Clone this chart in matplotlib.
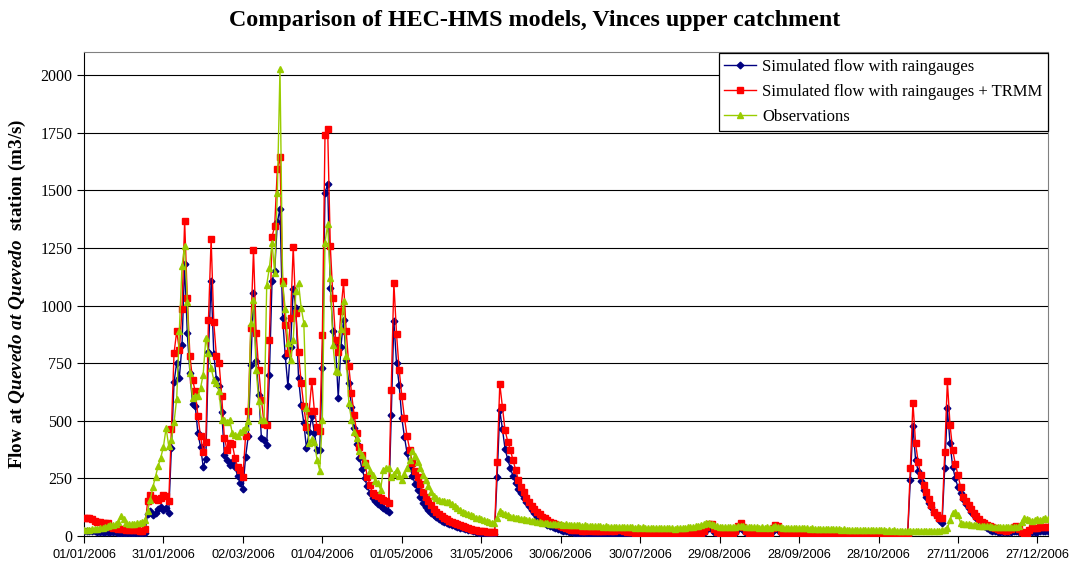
import matplotlib.pyplot as plt
import matplotlib.dates as mdates
import pandas as pd

# daily flows 2006, m3/s
raingauges = [
    22, 21, 21, 20, 20, 19, 19, 18, 18, 17,
    17, 16, 16, 15, 15, 15, 14, 14, 14, 13,
    13, 13, 12, 14, 95, 110, 92, 100, 118, 125,
    112, 120, 100, 381, 667, 752, 686, 827, 1180, 881,
    707, 574, 565, 446, 388, 301, 333, 800, 1106, 790,
    680, 650, 540, 352, 330, 309, 323, 300, 260, 229,
    203, 342, 432, 743, 1055, 758, 613, 425, 417, 396,
    700, 1106, 1149, 1362, 1420, 947, 780, 649, 820, 1073,
    990, 686, 570, 490, 381, 450, 519, 446, 374, 374,
    729, 1490, 1526, 1077, 888, 823, 599, 820, 936, 765,
    664, 560, 470, 400, 340, 290, 250, 215, 185, 165,
    150, 140, 130, 120, 112, 106, 526, 932, 751, 656,
    512, 430, 359, 300, 262, 225, 200, 170, 142, 125,
    112, 100, 91, 82, 74, 67, 60, 55, 50, 46,
    42, 39, 36, 33, 30, 27, 24, 21, 18, 15,
    12, 11, 10, 10, 9, 9, 258, 545, 464, 377,
    333, 294, 260, 229, 205, 186, 165, 149, 130, 113,
    98, 84, 72, 62, 55, 48, 42, 37, 33, 29,
    26, 23, 20, 18, 16, 14, 13, 12, 12, 11,
    11, 10, 10, 10, 9, 9, 9, 9, 8, 8,
    8, 9, 10, 9, 8, 8, 7, 7, 7, 7,
    7, 6, 6, 6, 6, 6, 6, 5, 5, 5,
    5, 5, 5, 5, 5, 5, 5, 5, 5, 5,
    5, 5, 6, 8, 14, 28, 36, 32, 18, 10,
    8, 7, 6, 6, 6, 6, 12, 30, 36, 25,
    12, 8, 7, 6, 6, 6, 5, 5, 6, 8,
    22, 30, 26, 12, 8, 6, 6, 5, 5, 5,
    5, 5, 5, 5, 5, 4, 4, 4, 4, 4,
    4, 4, 4, 4, 4, 4, 4, 4, 4, 4,
    4, 4, 4, 4, 4, 4, 3, 3, 3, 3,
    3, 3, 3, 3, 3, 3, 3, 3, 3, 3,
    3, 3, 243, 478, 330, 280, 240, 200, 171, 145,
    125, 105, 88, 70, 58, 294, 555, 403, 301, 251,
    212, 185, 160, 140, 120, 105, 91, 80, 68, 55,
    45, 35, 27, 22, 20, 19, 18, 18, 17, 17,
    18, 20, 22, 18, 16, 15, 15, 17, 18, 19,
    19, 20, 20, 20, 20,
]

raingauges_trmm = [
    78, 77, 76, 75, 64, 62, 60, 58, 57, 55,
    40, 36, 34, 32, 30, 29, 28, 27, 26, 25,
    24, 23, 22, 30, 150, 178, 165, 160, 157, 165,
    178, 172, 150, 464, 794, 888, 808, 983, 1367, 1033,
    780, 678, 628, 522, 432, 364, 410, 939, 1290, 928,
    780, 751, 609, 425, 374, 403, 400, 338, 300, 287,
    258, 432, 541, 903, 1241, 881, 719, 591, 486, 483,
    852, 1299, 1345, 1591, 1646, 1106, 917, 794, 947, 1255,
    968, 797, 664, 562, 475, 541, 671, 541, 475, 454,
    870, 1739, 1768, 1258, 1033, 852, 800, 978, 1101, 888,
    736, 620, 526, 446, 388, 350, 316, 258, 222, 186,
    178, 172, 164, 157, 150, 142, 635, 1099, 878, 722,
    609, 512, 432, 374, 316, 280, 258, 225, 190, 171,
    150, 135, 118, 106, 96, 88, 80, 72, 66, 60,
    55, 50, 46, 42, 38, 34, 31, 28, 25, 23,
    21, 20, 19, 19, 18, 18, 323, 660, 558, 458,
    410, 374, 328, 287, 243, 214, 190, 165, 149, 128,
    115, 106, 95, 84, 76, 68, 62, 57, 52, 48,
    42, 37, 33, 29, 27, 25, 24, 26, 23, 22,
    25, 24, 22, 21, 23, 22, 20, 21, 24, 22,
    20, 26, 28, 25, 22, 18, 16, 17, 15, 16,
    15, 14, 16, 15, 13, 14, 15, 13, 12, 14,
    13, 12, 14, 13, 12, 11, 13, 12, 11, 12,
    11, 12, 13, 15, 22, 40, 52, 50, 30, 18,
    15, 14, 13, 12, 14, 13, 20, 45, 55, 40,
    20, 15, 13, 12, 11, 12, 11, 10, 12, 15,
    35, 46, 42, 22, 14, 12, 11, 10, 11, 10,
    9, 10, 9, 10, 9, 8, 9, 8, 9, 8,
    8, 9, 8, 7, 8, 7, 8, 7, 6, 7,
    6, 7, 6, 5, 6, 5, 6, 5, 5, 6,
    5, 5, 4, 5, 4, 5, 4, 4, 5, 4,
    4, 5, 297, 578, 403, 319, 265, 222, 190, 160,
    135, 106, 90, 80, 77, 364, 671, 483, 374, 313,
    265, 212, 171, 150, 135, 115, 100, 85, 72, 62,
    55, 48, 42, 37, 33, 30, 27, 25, 23, 25,
    30, 38, 45, 30, 18, 15, 14, 25, 33, 35,
    36, 37, 37, 38, 38,
]

observations = [
    26, 27, 28, 30, 29, 32, 34, 36, 40, 45,
    48, 46, 50, 62, 88, 72, 58, 52, 50, 52,
    55, 58, 62, 70, 110, 157, 212, 258, 304, 340,
    388, 468, 390, 417, 493, 596, 891, 1171, 1260, 1017,
    709, 599, 606, 606, 642, 700, 860, 794, 729, 678,
    664, 628, 504, 504, 495, 504, 446, 440, 432, 450,
    461, 475, 497, 925, 1026, 722, 584, 504, 504, 1091,
    1164, 1273, 1142, 1487, 2026, 1099, 983, 838, 765, 852,
    1062, 1099, 990, 925, 555, 403, 420, 410, 330, 284,
    504, 1273, 1352, 1120, 830, 714, 712, 900, 1019, 780,
    577, 504, 450, 425, 370, 352, 320, 309, 280, 265,
    240, 229, 200, 287, 294, 294, 258, 270, 287, 260,
    243, 270, 294, 330, 367, 345, 320, 294, 265, 243,
    215, 193, 175, 164, 157, 152, 150, 148, 149, 140,
    130, 120, 112, 106, 100, 95, 90, 85, 80, 77,
    72, 68, 65, 62, 58, 55, 80, 110, 100, 94,
    90, 84, 82, 80, 78, 75, 73, 70, 68, 66,
    64, 62, 60, 58, 56, 55, 54, 52, 53, 51,
    50, 49, 50, 48, 48, 47, 46, 47, 45, 46,
    44, 45, 43, 44, 42, 43, 41, 42, 40, 41,
    40, 41, 39, 40, 38, 39, 37, 38, 36, 37,
    36, 37, 35, 36, 35, 34, 35, 34, 33, 34,
    33, 34, 33, 32, 33, 34, 35, 36, 37, 38,
    40, 42, 45, 48, 52, 55, 56, 52, 46, 42,
    40, 39, 38, 39, 38, 37, 38, 42, 45, 42,
    39, 38, 37, 38, 37, 36, 37, 36, 37, 36,
    38, 42, 40, 37, 36, 35, 36, 35, 34, 35,
    34, 33, 34, 33, 32, 33, 32, 31, 32, 31,
    30, 31, 30, 29, 30, 29, 28, 29, 28, 27,
    28, 27, 26, 27, 26, 25, 26, 25, 24, 25,
    24, 25, 24, 23, 24, 23, 24, 23, 22, 23,
    22, 23, 22, 23, 22, 23, 22, 23, 22, 23,
    22, 23, 22, 23, 24, 26, 33, 70, 99, 106,
    90, 58, 54, 52, 50, 48, 47, 46, 45, 44,
    43, 42, 42, 41, 41, 40, 40, 39, 39, 38,
    38, 38, 40, 45, 60, 77, 74, 70, 66, 68,
    72, 70, 74, 77, 72,
]

days = pd.date_range('2006-01-01', '2006-12-31', freq='D')
tick_days = pd.date_range('2006-01-01', periods=13, freq='30D')
y_ticks = list(range(0, 2001, 250))

plt.rcParams['font.family'] = ['Liberation Serif', 'DejaVu Serif']
plt.rcParams['mathtext.fontset'] = 'custom'
plt.rcParams['mathtext.rm'] = 'Liberation Serif:bold'
plt.rcParams['mathtext.it'] = 'Liberation Serif:italic:bold'

fig = plt.figure(figsize=(10.7, 5.68), dpi=100)
ax = fig.add_axes([84 / 1070, 32 / 568, 964 / 1070, 484 / 568])

ax.plot(days, raingauges, color='#000080', lw=1, marker='D', ms=3.4,
        label='Simulated flow with raingauges', zorder=3)
ax.plot(days, raingauges_trmm, color='#FF0000', lw=1, marker='s', ms=4.4,
        label='Simulated flow with raingauges + TRMM', zorder=4)
ax.plot(days, observations, color='#99CC00', lw=1, marker='^', ms=5,
        label='Observations', zorder=5)

ax.set_xlim(days[0], days[-1])
ax.set_ylim(0, 2100)
ax.set_yticks(y_ticks)
ax.set_xticks(tick_days)
ax.xaxis.set_major_formatter(mdates.DateFormatter('%d/%m/%Y'))
for lab in ax.get_xticklabels():
    lab.set_family(['Liberation Sans', 'DejaVu Sans'])
    lab.set_fontsize(9.2)
ax.tick_params(axis='y', labelsize=11.5, direction='out', length=5)
ax.tick_params(axis='x', direction='out', length=5, pad=4)

ax.grid(axis='y', color='black', lw=0.8)
ax.set_axisbelow(True)
for side in ['top', 'right']:
    ax.spines[side].set_color('#808080')

ax.set_ylabel(r'Flow at $\mathit{Quevedo\ at\ Quevedo}$  station (m3/s)',
              fontsize=13.8, fontweight='bold', labelpad=9)
fig.suptitle('Comparison of HEC-HMS models, Vinces upper catchment',
             fontsize=17.3, fontweight='bold', y=0.982)

leg = ax.legend(loc='upper right', bbox_to_anchor=(1.0, 0.998), borderaxespad=0,
                fontsize=12, fancybox=False, framealpha=1, edgecolor='black',
                handlelength=1.9, handletextpad=0.35, labelspacing=0.55,
                borderpad=0.35)
leg.get_frame().set_linewidth(0.9)

fig.savefig('out.png', dpi=100)
